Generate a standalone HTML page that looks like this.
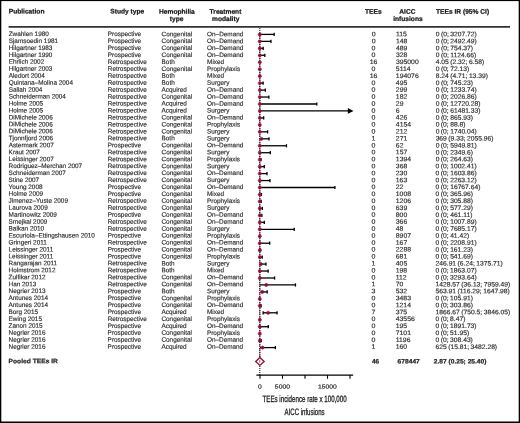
<!DOCTYPE html>
<html lang="en">
<head>
<meta charset="utf-8">
<title>Forest plot – TEEs incidence rate</title>
<style>
html,body{margin:0;padding:0;background:#fff;}
body{width:520px;height:423px;overflow:hidden;position:relative;}
svg{position:absolute;left:0;top:0;display:block;}
text{text-rendering:geometricPrecision;font-family:"Liberation Sans",sans-serif;fill:#303030;}
.r{font-size:6.4px;stroke:#303030;stroke-width:0.16px;}
.r.b{font-weight:bold;fill:#151515;stroke:#151515;stroke-width:0.22px;}
.h{font-size:6.65px;font-weight:bold;fill:#151515;stroke:#151515;stroke-width:0.22px;}
.m{text-anchor:middle;}
</style>
</head>
<body>
<svg width="520" height="423" viewBox="0 0 520 423">
<rect x="0" y="0" width="520" height="423" fill="#fff"/>

<rect x="0" y="0" width="520" height="1.1" fill="#000"/>
<rect x="0" y="0" width="1.3" height="423" fill="#000"/>
<rect x="518.7" y="0" width="1.3" height="423" fill="#000"/>
<rect x="0" y="421.5" width="520" height="1.5" fill="#000"/>
<rect x="8.6" y="26.2" width="501.4" height="1.4" fill="#000"/>
<g transform="rotate(0.03 260 211)">
<text class="h" x="8.6" y="13.7">Publication</text>
<text class="h m" x="127.2" y="13.7">Study type</text>
<text class="h m" x="176.8" y="13.7">Hemophilia</text>
<text class="h m" x="176.5" y="21.0">type</text>
<text class="h m" x="225.4" y="13.7">Treatment</text>
<text class="h m" x="225.6" y="21.0">modality</text>
<text class="h m" x="373.2" y="13.7">TEEs</text>
<text class="h m" x="407.3" y="13.7">AICC</text>
<text class="h m" x="407.8" y="21.0">infusions</text>
<text class="h" x="435.9" y="13.7">TEEs IR (95% CI)</text>
<g class="r"><text x="8.6" y="36.20">Zwahlen 1980</text><text x="107.7" y="36.20">Prospective</text><text x="161.5" y="36.20">Congenital</text><text x="207.0" y="36.20">On–Demand</text><text class="m" x="0" y="36.20" transform="translate(373.5 0) scale(1.1 1)">0</text><text x="0" y="36.20" transform="translate(395.8 0) scale(1.07 1)">115</text><text x="0" y="36.20" style="word-spacing:-0.35px" transform="translate(435.6 0) scale(1.05 1)">0 (0; 3207.72)</text></g>
<g class="r"><text x="8.6" y="43.15">Sjamsoedin 1981</text><text x="107.7" y="43.15">Prospective</text><text x="161.5" y="43.15">Congenital</text><text x="207.0" y="43.15">On–Demand</text><text class="m" x="0" y="43.15" transform="translate(373.5 0) scale(1.1 1)">0</text><text x="0" y="43.15" transform="translate(395.8 0) scale(1.07 1)">148</text><text x="0" y="43.15" style="word-spacing:-0.35px" transform="translate(435.6 0) scale(1.05 1)">0 (0; 2492.49)</text></g>
<g class="r"><text x="8.6" y="50.09">Hilgartner 1983</text><text x="107.7" y="50.09">Prospective</text><text x="161.5" y="50.09">Congenital</text><text x="207.0" y="50.09">On–Demand</text><text class="m" x="0" y="50.09" transform="translate(373.5 0) scale(1.1 1)">0</text><text x="0" y="50.09" transform="translate(395.8 0) scale(1.07 1)">489</text><text x="0" y="50.09" style="word-spacing:-0.35px" transform="translate(435.6 0) scale(1.05 1)">0 (0; 754.37)</text></g>
<g class="r"><text x="8.6" y="57.04">Hilgartner 1990</text><text x="107.7" y="57.04">Prospective</text><text x="161.5" y="57.04">Congenital</text><text x="207.0" y="57.04">On–Demand</text><text class="m" x="0" y="57.04" transform="translate(373.5 0) scale(1.1 1)">0</text><text x="0" y="57.04" transform="translate(395.8 0) scale(1.07 1)">328</text><text x="0" y="57.04" style="word-spacing:-0.35px" transform="translate(435.6 0) scale(1.05 1)">0 (0; 1124.66)</text></g>
<g class="r"><text x="8.6" y="63.99">Ehrlich 2002</text><text x="107.7" y="63.99">Retrospective</text><text x="161.5" y="63.99">Both</text><text x="207.0" y="63.99">Mixed</text><text class="m" x="0" y="63.99" transform="translate(373.5 0) scale(1.1 1)">16</text><text x="0" y="63.99" transform="translate(395.8 0) scale(1.07 1)">395000</text><text x="0" y="63.99" style="word-spacing:-0.35px" transform="translate(435.6 0) scale(1.05 1)">4.05 (2.32; 6.58)</text></g>
<g class="r"><text x="8.6" y="70.94">Hilgartner 2003</text><text x="107.7" y="70.94">Retrospective</text><text x="161.5" y="70.94">Congenital</text><text x="207.0" y="70.94">Prophylaxis</text><text class="m" x="0" y="70.94" transform="translate(373.5 0) scale(1.1 1)">0</text><text x="0" y="70.94" transform="translate(395.8 0) scale(1.07 1)">5114</text><text x="0" y="70.94" style="word-spacing:-0.35px" transform="translate(435.6 0) scale(1.05 1)">0 (0; 72.13)</text></g>
<g class="r"><text x="8.6" y="77.88">Aledort 2004</text><text x="107.7" y="77.88">Retrospective</text><text x="161.5" y="77.88">Both</text><text x="207.0" y="77.88">Mixed</text><text class="m" x="0" y="77.88" transform="translate(373.5 0) scale(1.1 1)">16</text><text x="0" y="77.88" transform="translate(395.8 0) scale(1.07 1)">194076</text><text x="0" y="77.88" style="word-spacing:-0.35px" transform="translate(435.6 0) scale(1.05 1)">8.24 (4.71; 13.39)</text></g>
<g class="r"><text x="8.6" y="84.83">Quintana–Molina 2004</text><text x="107.7" y="84.83">Retrospective</text><text x="161.5" y="84.83">Both</text><text x="207.0" y="84.83">Surgery</text><text class="m" x="0" y="84.83" transform="translate(373.5 0) scale(1.1 1)">0</text><text x="0" y="84.83" transform="translate(395.8 0) scale(1.07 1)">495</text><text x="0" y="84.83" style="word-spacing:-0.35px" transform="translate(435.6 0) scale(1.05 1)">0 (0; 745.23)</text></g>
<g class="r"><text x="8.6" y="91.78">Sallah 2004</text><text x="107.7" y="91.78">Retrospective</text><text x="161.5" y="91.78">Acquired</text><text x="207.0" y="91.78">On–Demand</text><text class="m" x="0" y="91.78" transform="translate(373.5 0) scale(1.1 1)">0</text><text x="0" y="91.78" transform="translate(395.8 0) scale(1.07 1)">299</text><text x="0" y="91.78" style="word-spacing:-0.35px" transform="translate(435.6 0) scale(1.05 1)">0 (0; 1233.74)</text></g>
<g class="r"><text x="8.6" y="98.72">Schneiderman 2004</text><text x="107.7" y="98.72">Retrospective</text><text x="161.5" y="98.72">Congenital</text><text x="207.0" y="98.72">On–Demand</text><text class="m" x="0" y="98.72" transform="translate(373.5 0) scale(1.1 1)">0</text><text x="0" y="98.72" transform="translate(395.8 0) scale(1.07 1)">182</text><text x="0" y="98.72" style="word-spacing:-0.35px" transform="translate(435.6 0) scale(1.05 1)">0 (0; 2026.86)</text></g>
<g class="r"><text x="8.6" y="105.67">Holme 2005</text><text x="107.7" y="105.67">Retrospective</text><text x="161.5" y="105.67">Acquired</text><text x="207.0" y="105.67">On–Demand</text><text class="m" x="0" y="105.67" transform="translate(373.5 0) scale(1.1 1)">0</text><text x="0" y="105.67" transform="translate(395.8 0) scale(1.07 1)">29</text><text x="0" y="105.67" style="word-spacing:-0.35px" transform="translate(435.6 0) scale(1.05 1)">0 (0; 12720.28)</text></g>
<g class="r"><text x="8.6" y="112.62">Holme 2005</text><text x="107.7" y="112.62">Retrospective</text><text x="161.5" y="112.62">Acquired</text><text x="207.0" y="112.62">Surgery</text><text class="m" x="0" y="112.62" transform="translate(373.5 0) scale(1.1 1)">0</text><text x="0" y="112.62" transform="translate(395.8 0) scale(1.07 1)">6</text><text x="0" y="112.62" style="word-spacing:-0.35px" transform="translate(435.6 0) scale(1.05 1)">0 (0; 61481.33)</text></g>
<g class="r"><text x="8.6" y="119.56">DiMichele 2006</text><text x="107.7" y="119.56">Retrospective</text><text x="161.5" y="119.56">Congenital</text><text x="207.0" y="119.56">On–Demand</text><text class="m" x="0" y="119.56" transform="translate(373.5 0) scale(1.1 1)">0</text><text x="0" y="119.56" transform="translate(395.8 0) scale(1.07 1)">426</text><text x="0" y="119.56" style="word-spacing:-0.35px" transform="translate(435.6 0) scale(1.05 1)">0 (0; 865.93)</text></g>
<g class="r"><text x="8.6" y="126.51">DiMichele 2006</text><text x="107.7" y="126.51">Retrospective</text><text x="161.5" y="126.51">Congenital</text><text x="207.0" y="126.51">Prophylaxis</text><text class="m" x="0" y="126.51" transform="translate(373.5 0) scale(1.1 1)">0</text><text x="0" y="126.51" transform="translate(395.8 0) scale(1.07 1)">4154</text><text x="0" y="126.51" style="word-spacing:-0.35px" transform="translate(435.6 0) scale(1.05 1)">0 (0; 88.8)</text></g>
<g class="r"><text x="8.6" y="133.46">DiMichele 2006</text><text x="107.7" y="133.46">Retrospective</text><text x="161.5" y="133.46">Congenital</text><text x="207.0" y="133.46">Surgery</text><text class="m" x="0" y="133.46" transform="translate(373.5 0) scale(1.1 1)">0</text><text x="0" y="133.46" transform="translate(395.8 0) scale(1.07 1)">212</text><text x="0" y="133.46" style="word-spacing:-0.35px" transform="translate(435.6 0) scale(1.05 1)">0 (0; 1740.04)</text></g>
<g class="r"><text x="8.6" y="140.41">Tjonnfjord 2006</text><text x="107.7" y="140.41">Retrospective</text><text x="161.5" y="140.41">Both</text><text x="207.0" y="140.41">Surgery</text><text class="m" x="0" y="140.41" transform="translate(373.5 0) scale(1.1 1)">1</text><text x="0" y="140.41" transform="translate(395.8 0) scale(1.07 1)">271</text><text x="0" y="140.41" style="word-spacing:-0.35px" transform="translate(435.6 0) scale(1.05 1)">369 (9.33; 2055.96)</text></g>
<g class="r"><text x="8.6" y="147.35">Astermark 2007</text><text x="107.7" y="147.35">Prospective</text><text x="161.5" y="147.35">Congenital</text><text x="207.0" y="147.35">On–Demand</text><text class="m" x="0" y="147.35" transform="translate(373.5 0) scale(1.1 1)">0</text><text x="0" y="147.35" transform="translate(395.8 0) scale(1.07 1)">62</text><text x="0" y="147.35" style="word-spacing:-0.35px" transform="translate(435.6 0) scale(1.05 1)">0 (0; 5949.81)</text></g>
<g class="r"><text x="8.6" y="154.30">Kraut 2007</text><text x="107.7" y="154.30">Retrospective</text><text x="161.5" y="154.30">Congenital</text><text x="207.0" y="154.30">Surgery</text><text class="m" x="0" y="154.30" transform="translate(373.5 0) scale(1.1 1)">0</text><text x="0" y="154.30" transform="translate(395.8 0) scale(1.07 1)">157</text><text x="0" y="154.30" style="word-spacing:-0.35px" transform="translate(435.6 0) scale(1.05 1)">0 (0; 2349.6)</text></g>
<g class="r"><text x="8.6" y="161.25">Leissinger 2007</text><text x="107.7" y="161.25">Retrospective</text><text x="161.5" y="161.25">Congenital</text><text x="207.0" y="161.25">Prophylaxis</text><text class="m" x="0" y="161.25" transform="translate(373.5 0) scale(1.1 1)">0</text><text x="0" y="161.25" transform="translate(395.8 0) scale(1.07 1)">1394</text><text x="0" y="161.25" style="word-spacing:-0.35px" transform="translate(435.6 0) scale(1.05 1)">0 (0; 264.63)</text></g>
<g class="r"><text x="8.6" y="168.19">Rodriguez–Merchan 2007</text><text x="107.7" y="168.19">Retrospective</text><text x="161.5" y="168.19">Congenital</text><text x="207.0" y="168.19">Surgery</text><text class="m" x="0" y="168.19" transform="translate(373.5 0) scale(1.1 1)">0</text><text x="0" y="168.19" transform="translate(395.8 0) scale(1.07 1)">368</text><text x="0" y="168.19" style="word-spacing:-0.35px" transform="translate(435.6 0) scale(1.05 1)">0 (0; 1002.41)</text></g>
<g class="r"><text x="8.6" y="175.14">Schneiderman 2007</text><text x="107.7" y="175.14">Retrospective</text><text x="161.5" y="175.14">Congenital</text><text x="207.0" y="175.14">On–Demand</text><text class="m" x="0" y="175.14" transform="translate(373.5 0) scale(1.1 1)">0</text><text x="0" y="175.14" transform="translate(395.8 0) scale(1.07 1)">230</text><text x="0" y="175.14" style="word-spacing:-0.35px" transform="translate(435.6 0) scale(1.05 1)">0 (0; 1603.86)</text></g>
<g class="r"><text x="8.6" y="182.09">Stine 2007</text><text x="107.7" y="182.09">Retrospective</text><text x="161.5" y="182.09">Congenital</text><text x="207.0" y="182.09">Surgery</text><text class="m" x="0" y="182.09" transform="translate(373.5 0) scale(1.1 1)">0</text><text x="0" y="182.09" transform="translate(395.8 0) scale(1.07 1)">163</text><text x="0" y="182.09" style="word-spacing:-0.35px" transform="translate(435.6 0) scale(1.05 1)">0 (0; 2263.12)</text></g>
<g class="r"><text x="8.6" y="189.03">Young 2008</text><text x="107.7" y="189.03">Prospective</text><text x="161.5" y="189.03">Congenital</text><text x="207.0" y="189.03">On–Demand</text><text class="m" x="0" y="189.03" transform="translate(373.5 0) scale(1.1 1)">0</text><text x="0" y="189.03" transform="translate(395.8 0) scale(1.07 1)">22</text><text x="0" y="189.03" style="word-spacing:-0.35px" transform="translate(435.6 0) scale(1.05 1)">0 (0; 16767.64)</text></g>
<g class="r"><text x="8.6" y="195.98">Holme 2009</text><text x="107.7" y="195.98">Prospective</text><text x="161.5" y="195.98">Congenital</text><text x="207.0" y="195.98">Mixed</text><text class="m" x="0" y="195.98" transform="translate(373.5 0) scale(1.1 1)">0</text><text x="0" y="195.98" transform="translate(395.8 0) scale(1.07 1)">1008</text><text x="0" y="195.98" style="word-spacing:-0.35px" transform="translate(435.6 0) scale(1.05 1)">0 (0; 365.96)</text></g>
<g class="r"><text x="8.6" y="202.93">Jimenez–Yuste 2009</text><text x="107.7" y="202.93">Retrospective</text><text x="161.5" y="202.93">Congenital</text><text x="207.0" y="202.93">Prophylaxis</text><text class="m" x="0" y="202.93" transform="translate(373.5 0) scale(1.1 1)">0</text><text x="0" y="202.93" transform="translate(395.8 0) scale(1.07 1)">1206</text><text x="0" y="202.93" style="word-spacing:-0.35px" transform="translate(435.6 0) scale(1.05 1)">0 (0; 305.88)</text></g>
<g class="r"><text x="8.6" y="209.88">Laurova 2009</text><text x="107.7" y="209.88">Retrospective</text><text x="161.5" y="209.88">Congenital</text><text x="207.0" y="209.88">Surgery</text><text class="m" x="0" y="209.88" transform="translate(373.5 0) scale(1.1 1)">0</text><text x="0" y="209.88" transform="translate(395.8 0) scale(1.07 1)">639</text><text x="0" y="209.88" style="word-spacing:-0.35px" transform="translate(435.6 0) scale(1.05 1)">0 (0; 577.29)</text></g>
<g class="r"><text x="8.6" y="216.82">Martinowitz 2009</text><text x="107.7" y="216.82">Prospective</text><text x="161.5" y="216.82">Congenital</text><text x="207.0" y="216.82">On–Demand</text><text class="m" x="0" y="216.82" transform="translate(373.5 0) scale(1.1 1)">0</text><text x="0" y="216.82" transform="translate(395.8 0) scale(1.07 1)">800</text><text x="0" y="216.82" style="word-spacing:-0.35px" transform="translate(435.6 0) scale(1.05 1)">0 (0; 461.11)</text></g>
<g class="r"><text x="8.6" y="223.77">Smejkal 2009</text><text x="107.7" y="223.77">Retrospective</text><text x="161.5" y="223.77">Congenital</text><text x="207.0" y="223.77">On–Demand</text><text class="m" x="0" y="223.77" transform="translate(373.5 0) scale(1.1 1)">0</text><text x="0" y="223.77" transform="translate(395.8 0) scale(1.07 1)">366</text><text x="0" y="223.77" style="word-spacing:-0.35px" transform="translate(435.6 0) scale(1.05 1)">0 (0; 1007.89)</text></g>
<g class="r"><text x="8.6" y="230.72">Balkan 2010</text><text x="107.7" y="230.72">Retrospective</text><text x="161.5" y="230.72">Congenital</text><text x="207.0" y="230.72">Surgery</text><text class="m" x="0" y="230.72" transform="translate(373.5 0) scale(1.1 1)">0</text><text x="0" y="230.72" transform="translate(395.8 0) scale(1.07 1)">48</text><text x="0" y="230.72" style="word-spacing:-0.35px" transform="translate(435.6 0) scale(1.05 1)">0 (0; 7685.17)</text></g>
<g class="r"><text x="8.6" y="237.66">Escuriola–Ettingshausen 2010</text><text x="107.7" y="237.66">Prospective</text><text x="161.5" y="237.66">Congenital</text><text x="207.0" y="237.66">Prophylaxis</text><text class="m" x="0" y="237.66" transform="translate(373.5 0) scale(1.1 1)">0</text><text x="0" y="237.66" transform="translate(395.8 0) scale(1.07 1)">8907</text><text x="0" y="237.66" style="word-spacing:-0.35px" transform="translate(435.6 0) scale(1.05 1)">0 (0; 41.42)</text></g>
<g class="r"><text x="8.6" y="244.61">Gringeri 2011</text><text x="107.7" y="244.61">Retrospective</text><text x="161.5" y="244.61">Congenital</text><text x="207.0" y="244.61">On–Demand</text><text class="m" x="0" y="244.61" transform="translate(373.5 0) scale(1.1 1)">0</text><text x="0" y="244.61" transform="translate(395.8 0) scale(1.07 1)">167</text><text x="0" y="244.61" style="word-spacing:-0.35px" transform="translate(435.6 0) scale(1.05 1)">0 (0; 2208.91)</text></g>
<g class="r"><text x="8.6" y="251.56">Leissinger 2011</text><text x="107.7" y="251.56">Prospective</text><text x="161.5" y="251.56">Congenital</text><text x="207.0" y="251.56">On–Demand</text><text class="m" x="0" y="251.56" transform="translate(373.5 0) scale(1.1 1)">0</text><text x="0" y="251.56" transform="translate(395.8 0) scale(1.07 1)">2288</text><text x="0" y="251.56" style="word-spacing:-0.35px" transform="translate(435.6 0) scale(1.05 1)">0 (0; 161.23)</text></g>
<g class="r"><text x="8.6" y="258.50">Leissinger 2011</text><text x="107.7" y="258.50">Prospective</text><text x="161.5" y="258.50">Congenital</text><text x="207.0" y="258.50">Prophylaxis</text><text class="m" x="0" y="258.50" transform="translate(373.5 0) scale(1.1 1)">0</text><text x="0" y="258.50" transform="translate(395.8 0) scale(1.07 1)">681</text><text x="0" y="258.50" style="word-spacing:-0.35px" transform="translate(435.6 0) scale(1.05 1)">0 (0; 541.69)</text></g>
<g class="r"><text x="8.6" y="265.45">Rangarajan 2011</text><text x="107.7" y="265.45">Retrospective</text><text x="161.5" y="265.45">Both</text><text x="207.0" y="265.45">Surgery</text><text class="m" x="0" y="265.45" transform="translate(373.5 0) scale(1.1 1)">1</text><text x="0" y="265.45" transform="translate(395.8 0) scale(1.07 1)">405</text><text x="0" y="265.45" style="word-spacing:-0.35px" transform="translate(435.6 0) scale(1.05 1)">246.91 (6.24; 1375.71)</text></g>
<g class="r"><text x="8.6" y="272.40">Holmstrom 2012</text><text x="107.7" y="272.40">Retrospective</text><text x="161.5" y="272.40">Both</text><text x="207.0" y="272.40">Mixed</text><text class="m" x="0" y="272.40" transform="translate(373.5 0) scale(1.1 1)">0</text><text x="0" y="272.40" transform="translate(395.8 0) scale(1.07 1)">198</text><text x="0" y="272.40" style="word-spacing:-0.35px" transform="translate(435.6 0) scale(1.05 1)">0 (0; 1863.07)</text></g>
<g class="r"><text x="8.6" y="279.35">Zulfikar 2012</text><text x="107.7" y="279.35">Retrospective</text><text x="161.5" y="279.35">Congenital</text><text x="207.0" y="279.35">On–Demand</text><text class="m" x="0" y="279.35" transform="translate(373.5 0) scale(1.1 1)">0</text><text x="0" y="279.35" transform="translate(395.8 0) scale(1.07 1)">112</text><text x="0" y="279.35" style="word-spacing:-0.35px" transform="translate(435.6 0) scale(1.05 1)">0 (0; 3293.64)</text></g>
<g class="r"><text x="8.6" y="286.29">Han 2013</text><text x="107.7" y="286.29">Retrospective</text><text x="161.5" y="286.29">Congenital</text><text x="207.0" y="286.29">On–Demand</text><text class="m" x="0" y="286.29" transform="translate(373.5 0) scale(1.1 1)">1</text><text x="0" y="286.29" transform="translate(395.8 0) scale(1.07 1)">70</text><text x="0" y="286.29" style="word-spacing:-0.35px" transform="translate(435.6 0) scale(1.05 1)">1428.57 (36.13; 7959.49)</text></g>
<g class="r"><text x="8.6" y="293.24">Negrier 2013</text><text x="107.7" y="293.24">Prospective</text><text x="161.5" y="293.24">Both</text><text x="207.0" y="293.24">Surgery</text><text class="m" x="0" y="293.24" transform="translate(373.5 0) scale(1.1 1)">3</text><text x="0" y="293.24" transform="translate(395.8 0) scale(1.07 1)">532</text><text x="0" y="293.24" style="word-spacing:-0.35px" transform="translate(435.6 0) scale(1.05 1)">563.91 (116.29; 1647.98)</text></g>
<g class="r"><text x="8.6" y="300.19">Antunes 2014</text><text x="107.7" y="300.19">Prospective</text><text x="161.5" y="300.19">Congenital</text><text x="207.0" y="300.19">Prophylaxis</text><text class="m" x="0" y="300.19" transform="translate(373.5 0) scale(1.1 1)">0</text><text x="0" y="300.19" transform="translate(395.8 0) scale(1.07 1)">3483</text><text x="0" y="300.19" style="word-spacing:-0.35px" transform="translate(435.6 0) scale(1.05 1)">0 (0; 105.91)</text></g>
<g class="r"><text x="8.6" y="307.13">Antunes 2014</text><text x="107.7" y="307.13">Prospective</text><text x="161.5" y="307.13">Congenital</text><text x="207.0" y="307.13">On–Demand</text><text class="m" x="0" y="307.13" transform="translate(373.5 0) scale(1.1 1)">0</text><text x="0" y="307.13" transform="translate(395.8 0) scale(1.07 1)">1214</text><text x="0" y="307.13" style="word-spacing:-0.35px" transform="translate(435.6 0) scale(1.05 1)">0 (0; 303.86)</text></g>
<g class="r"><text x="8.6" y="314.08">Borg 2015</text><text x="107.7" y="314.08">Prospective</text><text x="161.5" y="314.08">Acquired</text><text x="207.0" y="314.08">Mixed</text><text class="m" x="0" y="314.08" transform="translate(373.5 0) scale(1.1 1)">7</text><text x="0" y="314.08" transform="translate(395.8 0) scale(1.07 1)">375</text><text x="0" y="314.08" style="word-spacing:-0.35px" transform="translate(435.6 0) scale(1.05 1)">1866.67 (750.5; 3846.05)</text></g>
<g class="r"><text x="8.6" y="321.03">Ewing 2015</text><text x="107.7" y="321.03">Retrospective</text><text x="161.5" y="321.03">Congenital</text><text x="207.0" y="321.03">Prophylaxis</text><text class="m" x="0" y="321.03" transform="translate(373.5 0) scale(1.1 1)">0</text><text x="0" y="321.03" transform="translate(395.8 0) scale(1.07 1)">43556</text><text x="0" y="321.03" style="word-spacing:-0.35px" transform="translate(435.6 0) scale(1.05 1)">0 (0; 8.47)</text></g>
<g class="r"><text x="8.6" y="327.97">Zanon 2015</text><text x="107.7" y="327.97">Prospective</text><text x="161.5" y="327.97">Acquired</text><text x="207.0" y="327.97">On–Demand</text><text class="m" x="0" y="327.97" transform="translate(373.5 0) scale(1.1 1)">0</text><text x="0" y="327.97" transform="translate(395.8 0) scale(1.07 1)">195</text><text x="0" y="327.97" style="word-spacing:-0.35px" transform="translate(435.6 0) scale(1.05 1)">0 (0; 1891.73)</text></g>
<g class="r"><text x="8.6" y="334.92">Negrier 2016</text><text x="107.7" y="334.92">Prospective</text><text x="161.5" y="334.92">Congenital</text><text x="207.0" y="334.92">Prophylaxis</text><text class="m" x="0" y="334.92" transform="translate(373.5 0) scale(1.1 1)">0</text><text x="0" y="334.92" transform="translate(395.8 0) scale(1.07 1)">7101</text><text x="0" y="334.92" style="word-spacing:-0.35px" transform="translate(435.6 0) scale(1.05 1)">0 (0; 51.95)</text></g>
<g class="r"><text x="8.6" y="341.87">Negrier 2016</text><text x="107.7" y="341.87">Prospective</text><text x="161.5" y="341.87">Congenital</text><text x="207.0" y="341.87">On–Demand</text><text class="m" x="0" y="341.87" transform="translate(373.5 0) scale(1.1 1)">0</text><text x="0" y="341.87" transform="translate(395.8 0) scale(1.07 1)">1196</text><text x="0" y="341.87" style="word-spacing:-0.35px" transform="translate(435.6 0) scale(1.05 1)">0 (0; 308.43)</text></g>
<g class="r"><text x="8.6" y="348.81">Negrier 2016</text><text x="107.7" y="348.81">Prospective</text><text x="161.5" y="348.81">Acquired</text><text x="207.0" y="348.81">On–Demand</text><text class="m" x="0" y="348.81" transform="translate(373.5 0) scale(1.1 1)">1</text><text x="0" y="348.81" transform="translate(395.8 0) scale(1.07 1)">160</text><text x="0" y="348.81" style="word-spacing:-0.35px" transform="translate(435.6 0) scale(1.05 1)">625 (15.81; 3482.28)</text></g>
<g class="r b"><text x="0" y="363.40000000000003" transform="translate(8.6 0) scale(1.045 1)">Pooled TEEs IR</text><text class="m" x="375.7" y="363.40000000000003">46</text><text x="0" y="363.40000000000003" transform="translate(397.7 0) scale(1.04 1)">678447</text><text x="0" y="363.40000000000003" transform="translate(433.9 0) scale(1.035 1)">2.87 (0.25; 25.40)</text></g>
</g>
<line x1="259.8" y1="33" x2="259.8" y2="357.5" stroke="#8f1537" stroke-width="1.3" stroke-dasharray="2.2 1.3" opacity="0.75"/>
<line x1="259.8" y1="28" x2="259.8" y2="375" stroke="#222" stroke-width="1.15" stroke-dasharray="1.05 0.95"/>
<line x1="259.80" y1="34.40" x2="274.17" y2="34.40" stroke="#000" stroke-width="1.3"/>
<line x1="274.17" y1="32.80" x2="274.17" y2="36.00" stroke="#000" stroke-width="1.3"/>
<circle cx="259.80" cy="34.40" r="1.6" fill="#a01840" stroke="#8f1537" stroke-width="0.55"/><circle cx="259.80" cy="34.40" r="0.55" fill="#4a0a1e"/>
<line x1="259.80" y1="41.36" x2="270.97" y2="41.36" stroke="#000" stroke-width="1.3"/>
<line x1="270.97" y1="39.76" x2="270.97" y2="42.96" stroke="#000" stroke-width="1.3"/>
<circle cx="259.80" cy="41.36" r="1.6" fill="#a01840" stroke="#8f1537" stroke-width="0.55"/><circle cx="259.80" cy="41.36" r="0.55" fill="#4a0a1e"/>
<line x1="259.80" y1="48.32" x2="263.18" y2="48.32" stroke="#000" stroke-width="1.3"/>
<line x1="263.18" y1="46.72" x2="263.18" y2="49.92" stroke="#000" stroke-width="1.3"/>
<circle cx="259.80" cy="48.32" r="1.6" fill="#a01840" stroke="#8f1537" stroke-width="0.55"/><circle cx="259.80" cy="48.32" r="0.55" fill="#4a0a1e"/>
<line x1="259.80" y1="55.28" x2="264.84" y2="55.28" stroke="#000" stroke-width="1.3"/>
<line x1="264.84" y1="53.68" x2="264.84" y2="56.88" stroke="#000" stroke-width="1.3"/>
<circle cx="259.80" cy="55.28" r="1.6" fill="#a01840" stroke="#8f1537" stroke-width="0.55"/><circle cx="259.80" cy="55.28" r="0.55" fill="#4a0a1e"/>
<circle cx="259.82" cy="62.24" r="1.6" fill="#a01840" stroke="#8f1537" stroke-width="0.55"/><circle cx="259.82" cy="62.24" r="0.55" fill="#4a0a1e"/>
<circle cx="259.80" cy="69.20" r="1.6" fill="#a01840" stroke="#8f1537" stroke-width="0.55"/><circle cx="259.80" cy="69.20" r="0.55" fill="#4a0a1e"/>
<circle cx="259.84" cy="76.16" r="1.6" fill="#a01840" stroke="#8f1537" stroke-width="0.55"/><circle cx="259.84" cy="76.16" r="0.55" fill="#4a0a1e"/>
<line x1="259.80" y1="83.12" x2="263.14" y2="83.12" stroke="#000" stroke-width="1.3"/>
<line x1="263.14" y1="81.52" x2="263.14" y2="84.72" stroke="#000" stroke-width="1.3"/>
<circle cx="259.80" cy="83.12" r="1.6" fill="#a01840" stroke="#8f1537" stroke-width="0.55"/><circle cx="259.80" cy="83.12" r="0.55" fill="#4a0a1e"/>
<line x1="259.80" y1="90.08" x2="265.33" y2="90.08" stroke="#000" stroke-width="1.3"/>
<line x1="265.33" y1="88.48" x2="265.33" y2="91.68" stroke="#000" stroke-width="1.3"/>
<circle cx="259.80" cy="90.08" r="1.6" fill="#a01840" stroke="#8f1537" stroke-width="0.55"/><circle cx="259.80" cy="90.08" r="0.55" fill="#4a0a1e"/>
<line x1="259.80" y1="97.04" x2="268.88" y2="97.04" stroke="#000" stroke-width="1.3"/>
<line x1="268.88" y1="95.44" x2="268.88" y2="98.64" stroke="#000" stroke-width="1.3"/>
<circle cx="259.80" cy="97.04" r="1.6" fill="#a01840" stroke="#8f1537" stroke-width="0.55"/><circle cx="259.80" cy="97.04" r="0.55" fill="#4a0a1e"/>
<line x1="259.80" y1="104.00" x2="316.79" y2="104.00" stroke="#000" stroke-width="1.3"/>
<line x1="316.79" y1="102.40" x2="316.79" y2="105.60" stroke="#000" stroke-width="1.3"/>
<circle cx="259.80" cy="104.00" r="1.6" fill="#a01840" stroke="#8f1537" stroke-width="0.55"/><circle cx="259.80" cy="104.00" r="0.55" fill="#4a0a1e"/>
<line x1="259.80" y1="110.96" x2="350.50" y2="110.96" stroke="#000" stroke-width="1.3"/>
<path d="M353.50 110.96 L347.80 108.11 L347.80 113.81 Z" fill="#000"/>
<circle cx="259.80" cy="110.96" r="1.6" fill="#a01840" stroke="#8f1537" stroke-width="0.55"/><circle cx="259.80" cy="110.96" r="0.55" fill="#4a0a1e"/>
<line x1="259.80" y1="117.92" x2="263.68" y2="117.92" stroke="#000" stroke-width="1.3"/>
<line x1="263.68" y1="116.32" x2="263.68" y2="119.52" stroke="#000" stroke-width="1.3"/>
<circle cx="259.80" cy="117.92" r="1.6" fill="#a01840" stroke="#8f1537" stroke-width="0.55"/><circle cx="259.80" cy="117.92" r="0.55" fill="#4a0a1e"/>
<circle cx="259.80" cy="124.88" r="1.6" fill="#a01840" stroke="#8f1537" stroke-width="0.55"/><circle cx="259.80" cy="124.88" r="0.55" fill="#4a0a1e"/>
<line x1="259.80" y1="131.84" x2="267.60" y2="131.84" stroke="#000" stroke-width="1.3"/>
<line x1="267.60" y1="130.24" x2="267.60" y2="133.44" stroke="#000" stroke-width="1.3"/>
<circle cx="259.80" cy="131.84" r="1.6" fill="#a01840" stroke="#8f1537" stroke-width="0.55"/><circle cx="259.80" cy="131.84" r="0.55" fill="#4a0a1e"/>
<line x1="259.84" y1="138.80" x2="269.01" y2="138.80" stroke="#000" stroke-width="1.3"/>
<line x1="269.01" y1="137.20" x2="269.01" y2="140.40" stroke="#000" stroke-width="1.3"/>
<circle cx="261.45" cy="138.80" r="1.6" fill="#a01840" stroke="#8f1537" stroke-width="0.55"/><circle cx="261.45" cy="138.80" r="0.55" fill="#4a0a1e"/>
<line x1="259.80" y1="145.76" x2="286.46" y2="145.76" stroke="#000" stroke-width="1.3"/>
<line x1="286.46" y1="144.16" x2="286.46" y2="147.36" stroke="#000" stroke-width="1.3"/>
<circle cx="259.80" cy="145.76" r="1.6" fill="#a01840" stroke="#8f1537" stroke-width="0.55"/><circle cx="259.80" cy="145.76" r="0.55" fill="#4a0a1e"/>
<line x1="259.80" y1="152.72" x2="270.33" y2="152.72" stroke="#000" stroke-width="1.3"/>
<line x1="270.33" y1="151.12" x2="270.33" y2="154.32" stroke="#000" stroke-width="1.3"/>
<circle cx="259.80" cy="152.72" r="1.6" fill="#a01840" stroke="#8f1537" stroke-width="0.55"/><circle cx="259.80" cy="152.72" r="0.55" fill="#4a0a1e"/>
<line x1="259.80" y1="159.68" x2="260.99" y2="159.68" stroke="#000" stroke-width="1.3"/>
<line x1="260.99" y1="158.08" x2="260.99" y2="161.28" stroke="#000" stroke-width="1.3"/>
<circle cx="259.80" cy="159.68" r="1.6" fill="#a01840" stroke="#8f1537" stroke-width="0.55"/><circle cx="259.80" cy="159.68" r="0.55" fill="#4a0a1e"/>
<line x1="259.80" y1="166.64" x2="264.29" y2="166.64" stroke="#000" stroke-width="1.3"/>
<line x1="264.29" y1="165.04" x2="264.29" y2="168.24" stroke="#000" stroke-width="1.3"/>
<circle cx="259.80" cy="166.64" r="1.6" fill="#a01840" stroke="#8f1537" stroke-width="0.55"/><circle cx="259.80" cy="166.64" r="0.55" fill="#4a0a1e"/>
<line x1="259.80" y1="173.60" x2="266.99" y2="173.60" stroke="#000" stroke-width="1.3"/>
<line x1="266.99" y1="172.00" x2="266.99" y2="175.20" stroke="#000" stroke-width="1.3"/>
<circle cx="259.80" cy="173.60" r="1.6" fill="#a01840" stroke="#8f1537" stroke-width="0.55"/><circle cx="259.80" cy="173.60" r="0.55" fill="#4a0a1e"/>
<line x1="259.80" y1="180.56" x2="269.94" y2="180.56" stroke="#000" stroke-width="1.3"/>
<line x1="269.94" y1="178.96" x2="269.94" y2="182.16" stroke="#000" stroke-width="1.3"/>
<circle cx="259.80" cy="180.56" r="1.6" fill="#a01840" stroke="#8f1537" stroke-width="0.55"/><circle cx="259.80" cy="180.56" r="0.55" fill="#4a0a1e"/>
<line x1="259.80" y1="187.52" x2="334.92" y2="187.52" stroke="#000" stroke-width="1.3"/>
<line x1="334.92" y1="185.92" x2="334.92" y2="189.12" stroke="#000" stroke-width="1.3"/>
<circle cx="259.80" cy="187.52" r="1.6" fill="#a01840" stroke="#8f1537" stroke-width="0.55"/><circle cx="259.80" cy="187.52" r="0.55" fill="#4a0a1e"/>
<line x1="259.80" y1="194.48" x2="261.44" y2="194.48" stroke="#000" stroke-width="1.3"/>
<line x1="261.44" y1="192.88" x2="261.44" y2="196.08" stroke="#000" stroke-width="1.3"/>
<circle cx="259.80" cy="194.48" r="1.6" fill="#a01840" stroke="#8f1537" stroke-width="0.55"/><circle cx="259.80" cy="194.48" r="0.55" fill="#4a0a1e"/>
<line x1="259.80" y1="201.44" x2="261.17" y2="201.44" stroke="#000" stroke-width="1.3"/>
<line x1="261.17" y1="199.84" x2="261.17" y2="203.04" stroke="#000" stroke-width="1.3"/>
<circle cx="259.80" cy="201.44" r="1.6" fill="#a01840" stroke="#8f1537" stroke-width="0.55"/><circle cx="259.80" cy="201.44" r="0.55" fill="#4a0a1e"/>
<line x1="259.80" y1="208.40" x2="262.39" y2="208.40" stroke="#000" stroke-width="1.3"/>
<line x1="262.39" y1="206.80" x2="262.39" y2="210.00" stroke="#000" stroke-width="1.3"/>
<circle cx="259.80" cy="208.40" r="1.6" fill="#a01840" stroke="#8f1537" stroke-width="0.55"/><circle cx="259.80" cy="208.40" r="0.55" fill="#4a0a1e"/>
<line x1="259.80" y1="215.36" x2="261.87" y2="215.36" stroke="#000" stroke-width="1.3"/>
<line x1="261.87" y1="213.76" x2="261.87" y2="216.96" stroke="#000" stroke-width="1.3"/>
<circle cx="259.80" cy="215.36" r="1.6" fill="#a01840" stroke="#8f1537" stroke-width="0.55"/><circle cx="259.80" cy="215.36" r="0.55" fill="#4a0a1e"/>
<line x1="259.80" y1="222.32" x2="264.32" y2="222.32" stroke="#000" stroke-width="1.3"/>
<line x1="264.32" y1="220.72" x2="264.32" y2="223.92" stroke="#000" stroke-width="1.3"/>
<circle cx="259.80" cy="222.32" r="1.6" fill="#a01840" stroke="#8f1537" stroke-width="0.55"/><circle cx="259.80" cy="222.32" r="0.55" fill="#4a0a1e"/>
<line x1="259.80" y1="229.28" x2="294.23" y2="229.28" stroke="#000" stroke-width="1.3"/>
<line x1="294.23" y1="227.68" x2="294.23" y2="230.88" stroke="#000" stroke-width="1.3"/>
<circle cx="259.80" cy="229.28" r="1.6" fill="#a01840" stroke="#8f1537" stroke-width="0.55"/><circle cx="259.80" cy="229.28" r="0.55" fill="#4a0a1e"/>
<circle cx="259.80" cy="236.24" r="1.6" fill="#a01840" stroke="#8f1537" stroke-width="0.55"/><circle cx="259.80" cy="236.24" r="0.55" fill="#4a0a1e"/>
<line x1="259.80" y1="243.20" x2="269.70" y2="243.20" stroke="#000" stroke-width="1.3"/>
<line x1="269.70" y1="241.60" x2="269.70" y2="244.80" stroke="#000" stroke-width="1.3"/>
<circle cx="259.80" cy="243.20" r="1.6" fill="#a01840" stroke="#8f1537" stroke-width="0.55"/><circle cx="259.80" cy="243.20" r="0.55" fill="#4a0a1e"/>
<line x1="259.80" y1="250.16" x2="260.52" y2="250.16" stroke="#000" stroke-width="1.3"/>
<line x1="260.52" y1="248.56" x2="260.52" y2="251.76" stroke="#000" stroke-width="1.3"/>
<circle cx="259.80" cy="250.16" r="1.6" fill="#a01840" stroke="#8f1537" stroke-width="0.55"/><circle cx="259.80" cy="250.16" r="0.55" fill="#4a0a1e"/>
<line x1="259.80" y1="257.12" x2="262.23" y2="257.12" stroke="#000" stroke-width="1.3"/>
<line x1="262.23" y1="255.52" x2="262.23" y2="258.72" stroke="#000" stroke-width="1.3"/>
<circle cx="259.80" cy="257.12" r="1.6" fill="#a01840" stroke="#8f1537" stroke-width="0.55"/><circle cx="259.80" cy="257.12" r="0.55" fill="#4a0a1e"/>
<line x1="259.83" y1="264.08" x2="265.96" y2="264.08" stroke="#000" stroke-width="1.3"/>
<line x1="265.96" y1="262.48" x2="265.96" y2="265.68" stroke="#000" stroke-width="1.3"/>
<circle cx="260.91" cy="264.08" r="1.6" fill="#a01840" stroke="#8f1537" stroke-width="0.55"/><circle cx="260.91" cy="264.08" r="0.55" fill="#4a0a1e"/>
<line x1="259.80" y1="271.04" x2="268.15" y2="271.04" stroke="#000" stroke-width="1.3"/>
<line x1="268.15" y1="269.44" x2="268.15" y2="272.64" stroke="#000" stroke-width="1.3"/>
<circle cx="259.80" cy="271.04" r="1.6" fill="#a01840" stroke="#8f1537" stroke-width="0.55"/><circle cx="259.80" cy="271.04" r="0.55" fill="#4a0a1e"/>
<line x1="259.80" y1="278.00" x2="274.56" y2="278.00" stroke="#000" stroke-width="1.3"/>
<line x1="274.56" y1="276.40" x2="274.56" y2="279.60" stroke="#000" stroke-width="1.3"/>
<circle cx="259.80" cy="278.00" r="1.6" fill="#a01840" stroke="#8f1537" stroke-width="0.55"/><circle cx="259.80" cy="278.00" r="0.55" fill="#4a0a1e"/>
<line x1="259.96" y1="284.96" x2="295.46" y2="284.96" stroke="#000" stroke-width="1.3"/>
<line x1="295.46" y1="283.36" x2="295.46" y2="286.56" stroke="#000" stroke-width="1.3"/>
<circle cx="266.20" cy="284.96" r="1.6" fill="#a01840" stroke="#8f1537" stroke-width="0.55"/><circle cx="266.20" cy="284.96" r="0.55" fill="#4a0a1e"/>
<line x1="260.32" y1="291.92" x2="267.18" y2="291.92" stroke="#000" stroke-width="1.3"/>
<line x1="267.18" y1="290.32" x2="267.18" y2="293.52" stroke="#000" stroke-width="1.3"/>
<circle cx="262.33" cy="291.92" r="1.6" fill="#a01840" stroke="#8f1537" stroke-width="0.55"/><circle cx="262.33" cy="291.92" r="0.55" fill="#4a0a1e"/>
<circle cx="259.80" cy="298.88" r="1.6" fill="#a01840" stroke="#8f1537" stroke-width="0.55"/><circle cx="259.80" cy="298.88" r="0.55" fill="#4a0a1e"/>
<line x1="259.80" y1="305.84" x2="261.16" y2="305.84" stroke="#000" stroke-width="1.3"/>
<line x1="261.16" y1="304.24" x2="261.16" y2="307.44" stroke="#000" stroke-width="1.3"/>
<circle cx="259.80" cy="305.84" r="1.6" fill="#a01840" stroke="#8f1537" stroke-width="0.55"/><circle cx="259.80" cy="305.84" r="0.55" fill="#4a0a1e"/>
<line x1="263.16" y1="312.80" x2="277.03" y2="312.80" stroke="#000" stroke-width="1.3"/>
<line x1="277.03" y1="311.20" x2="277.03" y2="314.40" stroke="#000" stroke-width="1.3"/>
<line x1="263.16" y1="311.20" x2="263.16" y2="314.40" stroke="#000" stroke-width="1.3"/>
<circle cx="268.16" cy="312.80" r="1.6" fill="#a01840" stroke="#8f1537" stroke-width="0.55"/><circle cx="268.16" cy="312.80" r="0.55" fill="#4a0a1e"/>
<circle cx="259.80" cy="319.76" r="1.6" fill="#a01840" stroke="#8f1537" stroke-width="0.55"/><circle cx="259.80" cy="319.76" r="0.55" fill="#4a0a1e"/>
<line x1="259.80" y1="326.72" x2="268.27" y2="326.72" stroke="#000" stroke-width="1.3"/>
<line x1="268.27" y1="325.12" x2="268.27" y2="328.32" stroke="#000" stroke-width="1.3"/>
<circle cx="259.80" cy="326.72" r="1.6" fill="#a01840" stroke="#8f1537" stroke-width="0.55"/><circle cx="259.80" cy="326.72" r="0.55" fill="#4a0a1e"/>
<circle cx="259.80" cy="333.68" r="1.6" fill="#a01840" stroke="#8f1537" stroke-width="0.55"/><circle cx="259.80" cy="333.68" r="0.55" fill="#4a0a1e"/>
<line x1="259.80" y1="340.64" x2="261.18" y2="340.64" stroke="#000" stroke-width="1.3"/>
<line x1="261.18" y1="339.04" x2="261.18" y2="342.24" stroke="#000" stroke-width="1.3"/>
<circle cx="259.80" cy="340.64" r="1.6" fill="#a01840" stroke="#8f1537" stroke-width="0.55"/><circle cx="259.80" cy="340.64" r="0.55" fill="#4a0a1e"/>
<line x1="259.87" y1="347.60" x2="275.40" y2="347.60" stroke="#000" stroke-width="1.3"/>
<line x1="275.40" y1="346.00" x2="275.40" y2="349.20" stroke="#000" stroke-width="1.3"/>
<circle cx="262.60" cy="347.60" r="1.6" fill="#a01840" stroke="#8f1537" stroke-width="0.55"/><circle cx="262.60" cy="347.60" r="0.55" fill="#4a0a1e"/>
<path d="M255.70 361.40 L259.90 357.40 L264.10 361.40 L259.90 365.40 Z" fill="#fff" stroke="#8f1537" stroke-width="1.4"/>
<line x1="259.8" y1="360.09999999999997" x2="259.8" y2="362.7" stroke="#8f1537" stroke-width="0.8"/>
<line x1="256.4" y1="375.1" x2="353.2" y2="375.1" stroke="#000" stroke-width="1.4"/>
<line x1="260.00" y1="375.1" x2="260.00" y2="378.8" stroke="#000" stroke-width="1.1"/>
<line x1="282.50" y1="375.1" x2="282.50" y2="378.8" stroke="#000" stroke-width="1.1"/>
<line x1="305.00" y1="375.1" x2="305.00" y2="378.8" stroke="#000" stroke-width="1.1"/>
<line x1="327.50" y1="375.1" x2="327.50" y2="378.8" stroke="#000" stroke-width="1.1"/>
<line x1="350.00" y1="375.1" x2="350.00" y2="378.8" stroke="#000" stroke-width="1.1"/>
<g transform="rotate(0.03 260 211)">
<text class="m" x="260.00" y="388.4" style="font-size:5.8px;stroke:#2b2b2b;stroke-width:0.2px" transform="translate(260.00 0) scale(1.17 1) translate(-260.00 0)">0</text>
<text class="m" x="282.50" y="388.4" style="font-size:5.8px;stroke:#2b2b2b;stroke-width:0.2px" transform="translate(282.50 0) scale(1.17 1) translate(-282.50 0)">5000</text>
<text class="m" x="327.50" y="388.4" style="font-size:5.8px;stroke:#2b2b2b;stroke-width:0.2px" transform="translate(327.50 0) scale(1.17 1) translate(-327.50 0)">15000</text>
<text class="m" x="304.7" y="401.9" style="font-size:9.2px;fill:#1c1c1c;stroke:#1c1c1c;stroke-width:0.3px" transform="translate(304.7 0) scale(0.672 1) translate(-304.7 0)">TEEs incidence rate x 100,000</text>
<text class="m" x="304.7" y="415.0" style="font-size:9.2px;fill:#1c1c1c;stroke:#1c1c1c;stroke-width:0.3px" transform="translate(304.7 0) scale(0.658 1) translate(-304.7 0)">AICC infusions</text>
</g>
</svg>
</body>
</html>
